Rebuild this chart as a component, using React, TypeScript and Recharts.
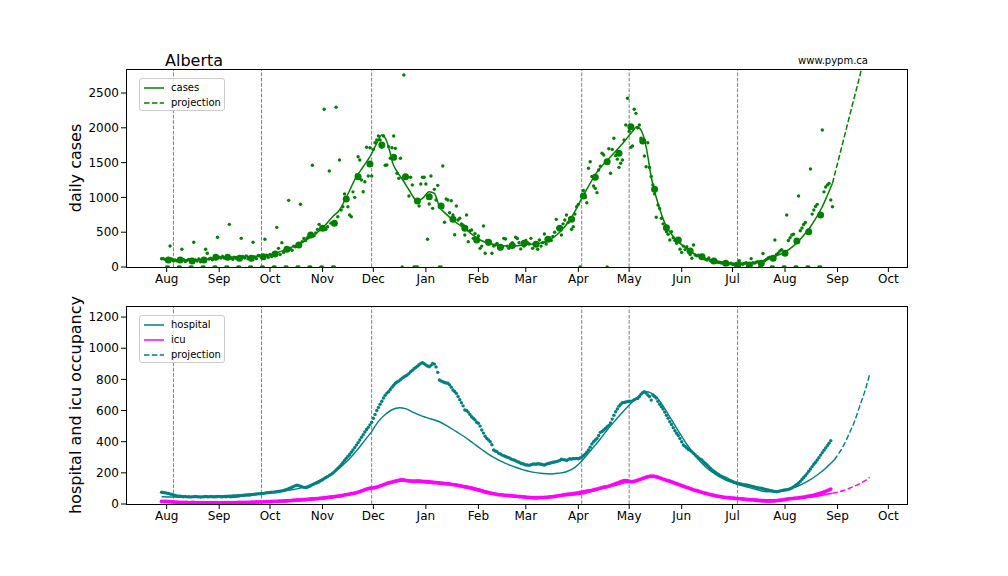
import React from "react";
import { ComposedChart, Line, Scatter, XAxis, YAxis, ReferenceLine } from "recharts";

const FONT = "'DejaVu Sans', sans-serif";
const GREEN = "#008000";
const TEAL = "#008080";
const MAGENTA = "#ff00ff";

// x axis: days since 2020-08-01
const monthTicks = [0, 31, 61, 92, 122, 153, 184, 212, 243, 273, 304, 334, 365, 396, 426];
const monthLabels = ["Aug", "Sep", "Oct", "Nov", "Dec", "Jan", "Feb", "Mar", "Apr", "May", "Jun", "Jul", "Aug", "Sep", "Oct"];
const eventDays = [4, 56, 121, 245, 273, 337];

const caseTicks = [0, 500, 1000, 1500, 2000, 2500];
const occTicks = [0, 200, 400, 600, 800, 1000, 1200];

// daily reported cases, first value is day -3
const firstDay = -3;
const dailyCases = [
  118, 120, 110, 0, 0,
  302, 115, 85, 100, 90, 0, 0,
  254, 105, 80, 95, 110, 0, 0,
  355, 100, 85, 115, 75, 0, 0,
  254, 197, 115, 125, 105, 0, 0,
  427, 140, 130, 150, 130, 0, 0,
  613, 125, 110, 140, 125, 0, 0,
  412, 150, 130, 160, 120, 0, 0,
  355, 145, 120, 165, 160, 0, 0,
  398, 170, 140, 180, 150, 0, 0,
  570, 268, 180, 350, 210, 0, 0,
  958, 260, 240, 300, 290, 0, 0,
  901, 364, 410, 380, 420, 0, 0,
  1461, 450, 490, 540, 613, 0, 0,
  2266, 542, 580, 1379, 630, 0, 0,
  2295, 723, 1537, 820, 866, 1050, 990,
  866, 747, 723, 1080, 1001, 1322, 1585,
  1537, 1250, 1082, 1226, 1720, 1307, 1714,
  1307, 1690, 1786, 1825, 1882, 1825, 1720,
  1882, 1461, 1466, 1729, 1562, 1714, 1882,
  1705, 1346, 1274, 1562, 0, 2759, 1283,
  1289, 1020, 1289, 1180, 0, 0, 0,
  876, 1193, 1289, 1289, 1193, 398, 905,
  1307, 843, 1116, 963, 1173, 0, 0,
  1451, 642, 977, 963, 780, 953, 747,
  464, 876, 675, 700, 620, 600, 460,
  747, 364, 520, 532, 412, 480, 390,
  445, 268, 300, 589, 197, 380, 330,
  360, 197, 300, 316, 340, 280, 260,
  292, 412, 402, 300, 270, 320, 350,
  300, 427, 410, 348, 260, 320, 300,
  380, 350, 330, 412, 268, 340, 326,
  254, 388, 300, 350, 474, 330, 398,
  420, 380, 440, 500, 685, 560, 556,
  460, 620, 675, 747, 640, 700, 542,
  580, 760, 866, 900, 0, 1020, 1100,
  1000, 924, 1418, 1513, 1300, 1164, 1130,
  1068, 1394, 1450, 1634, 1610, 1500, 0,
  1700, 1346, 1690, 1849, 1600, 1550, 1432,
  1490, 1537, 1825, 2040, 2424, 1950, 1720,
  1740, 2266, 2208, 2000, 2040, 1850, 1790,
  1595, 1441, 1786, 1430, 1300, 1178, 1050,
  714, 891, 840, 700, 620, 560, 507,
  470, 388, 507, 420, 380, 340, 390,
  254, 210, 300, 250, 292, 220, 180,
  125, 316, 172, 160, 170, 140, 150,
  120, 110, 100, 130, 90, 80, 85,
  75, 70, 65, 60, 55, 50, 48,
  40, 45, 55, 40, 35, 0, 0,
  90, 45, 40, 50, 60, 0, 0,
  120, 60, 55, 70, 75, 0, 0,
  194, 90, 110, 130, 140, 0, 0,
  388, 180, 200, 230, 250, 0, 0,
  747, 380, 420, 460, 470, 0, 0,
  1020, 520, 560, 610, 640, 0, 0,
  1408, 760, 820, 870, 900, 0, 0,
  1968, 1080, 1150, 1180, 1200, 962, 866,
];

// weekly averages, on days 1, 8, 15, ...
const weekFirstDay = 1;
const weeklyCases = [
  100, 100, 86, 100, 139, 139, 125, 125, 148, 187,
  254, 316, 460, 556, 628, 977, 1297, 1480, 1753, 1576,
  1297, 948, 1010, 876, 685, 556, 388, 355, 283, 310,
  340, 326, 398, 556, 685, 1020, 1289, 1513, 1634, 2016,
  1810, 1116, 565, 388, 230, 148, 86, 53, 29, 29,
  53, 125, 197, 374, 507, 747,
];

const caseModelDays = [
  -3, 5, 15, 25, 35, 45, 56, 64, 71, 78, 85, 92, 98, 102, 106, 112, 116, 120, 124, 127,
  129.6, 131.5, 133.5, 136, 139.4, 143, 148, 151, 155, 158, 161, 165, 169, 177, 185, 194.5, 205, 214, 220, 226,
  232, 238, 245.6, 253.5, 263, 270, 275, 277.5, 280, 283, 286, 290, 295, 299, 303, 308, 312.5, 317, 322, 327,
  332, 336, 343, 350, 355, 359.7, 365, 369.5, 374, 379.4, 383, 387, 390, 393,
];
const caseModel = [
  120, 100, 100, 115, 140, 148, 155, 197, 260, 330, 430, 560, 723, 819, 1000, 1297, 1440, 1585, 1777, 1897,
  1825, 1680, 1489, 1370, 1250, 1110, 950, 985, 1082, 1058, 866, 760, 675, 532, 388, 316, 300, 326, 340, 388,
  500, 675, 1010, 1346, 1609, 1800, 1950, 2016, 1968, 1729, 1297, 915, 579, 440, 340, 250, 172, 130, 100, 75,
  58, 53, 58, 76, 110, 158, 215, 292, 400, 556, 690, 866, 1030, 1202,
];
const caseProjDays = [393, 399, 405, 410, 414];
const caseProj = [1202, 1777, 2352, 2830, 3250];

// hospital occupancy, first value is day -3
const hospital = [
  75, 74, 72, 70, 68, 64, 62, 58, 55, 52,
  50, 50, 48, 47, 48, 46, 47, 45, 46, 47,
  48, 47, 46, 45, 46, 47, 48, 47, 46, 48,
  47, 46, 47, 48, 49, 47, 46, 48, 47, 49,
  48, 47, 48, 50, 49, 51, 52, 54, 55, 56,
  57, 58, 58, 60, 62, 63, 64, 65, 66, 67,
  68, 70, 72, 73, 74, 75, 76, 77, 79, 80,
  82, 84, 87, 90, 94, 98, 103, 108, 113, 118,
  121, 118, 114, 110, 107, 106, 108, 112, 117, 123,
  128, 133, 138, 143, 150, 156, 163, 170, 176, 183,
  190, 198, 208, 218, 229, 240, 252, 265, 280, 293,
  306, 318, 332, 347, 362, 378, 394, 411, 428, 445,
  462, 478, 492, 508, 525, 550, 575, 600, 620, 640,
  660, 680, 698, 712, 721, 735, 750, 762, 775, 783,
  789, 798, 808, 815, 822, 828, 837, 849, 858, 868,
  876, 885, 894, 903, 907, 900, 892, 886, 881, 890,
  903, 898, 880, 845, 796, 790, 785, 780, 777, 775,
  765, 750, 732, 722, 710, 690, 670, 650, 630, 603,
  600, 590, 575, 560, 550, 540, 525, 518, 500, 475,
  455, 435, 420, 411, 400, 380, 347, 340, 336, 325,
  321, 314, 310, 305, 300, 298, 290, 285, 282, 278,
  272, 268, 262, 258, 255, 250, 250, 248, 252, 255,
  257, 255, 258, 257, 255, 252, 250, 255, 260, 262,
  265, 268, 270, 272, 275, 280, 287, 285, 283, 280,
  285, 290, 288, 292, 290, 293, 290, 295, 300, 310,
  320, 332, 347, 365, 385, 400, 411, 421, 440, 460,
  465, 475, 485, 496, 505, 520, 545, 570, 592, 610,
  628, 640, 650, 652, 655, 657, 660, 658, 662, 670,
  675, 678, 690, 705, 715, 721, 712, 700, 690, 667,
  700, 690, 680, 660, 640, 625, 610, 590, 570, 550,
  528, 510, 490, 470, 454, 440, 420, 400, 379, 370,
  360, 350, 345, 336, 325, 315, 305, 295, 288, 282,
  270, 260, 250, 240, 229, 218, 210, 202, 195, 188,
  180, 175, 170, 165, 160, 154, 150, 145, 140, 136,
  132, 130, 128, 126, 124, 122, 120, 118, 115, 112,
  110, 107, 105, 102, 101, 98, 95, 92, 90, 87,
  85, 82, 80, 79, 81, 83, 86, 88, 90, 92,
  94, 98, 103, 110, 118, 126, 135, 145, 158, 170,
  182, 195, 210, 225, 240, 255, 268, 282, 298, 314,
  330, 345, 360, 375, 390, 407,
];

// icu occupancy, first value is day -3
const icu = [
  17, 17, 16, 16, 15, 15, 14, 13, 12, 12,
  11, 11, 11, 10, 10, 10, 9, 9, 10, 10,
  9, 9, 8, 8, 8, 9, 9, 8, 8, 8,
  7, 8, 8, 8, 7, 7, 8, 8, 8, 8,
  9, 9, 8, 9, 9, 10, 10, 10, 11, 10,
  10, 11, 11, 12, 12, 12, 13, 12, 13, 13,
  14, 14, 15, 15, 15, 16, 16, 17, 17, 18,
  19, 19, 20, 20, 21, 22, 22, 23, 24, 25,
  26, 26, 27, 28, 28, 29, 30, 31, 32, 33,
  33, 34, 35, 36, 37, 38, 40, 41, 42, 44,
  45, 46, 47, 49, 50, 52, 53, 55, 58, 60,
  62, 64, 66, 68, 70, 73, 76, 80, 84, 88,
  92, 96, 99, 101, 102, 104, 106, 108, 112, 116,
  120, 124, 128, 132, 135, 138, 141, 144, 147, 150,
  152, 154, 155, 154, 152, 150, 148, 147, 146, 145,
  146, 147, 146, 145, 144, 143, 142, 141, 140, 139,
  138, 137, 137, 136, 134, 133, 132, 131, 130, 129,
  128, 126, 125, 123, 121, 119, 117, 115, 112, 110,
  108, 106, 104, 101, 98, 95, 92, 90, 87, 84,
  80, 77, 74, 72, 70, 68, 66, 64, 62, 60,
  59, 58, 57, 56, 55, 54, 53, 52, 51, 50,
  49, 48, 47, 46, 45, 44, 43, 42, 41, 40,
  40, 39, 40, 41, 42, 41, 42, 43, 44, 45,
  46, 47, 48, 50, 52, 54, 56, 58, 60, 62,
  63, 64, 65, 66, 68, 70, 72, 74, 76, 78,
  80, 82, 84, 86, 88, 90, 93, 96, 99, 102,
  105, 108, 110, 112, 115, 118, 122, 126, 130, 134,
  138, 142, 146, 150, 150, 148, 145, 143, 143, 145,
  148, 152, 156, 160, 164, 168, 172, 175, 177, 178,
  178, 177, 175, 172, 168, 164, 160, 156, 152, 150,
  146, 142, 138, 134, 130, 126, 122, 118, 114, 110,
  107, 103, 99, 95, 91, 88, 85, 82, 78, 75,
  72, 69, 66, 63, 60, 58, 55, 53, 51, 49,
  47, 45, 43, 42, 41, 40, 39, 38, 37, 36,
  35, 34, 33, 32, 31, 30, 29, 28, 27, 26,
  25, 24, 23, 22, 21, 20, 20, 19, 19, 19,
  20, 20, 21, 22, 23, 24, 25, 27, 29, 31,
  33, 34, 35, 36, 37, 38, 39, 41, 43, 44,
  46, 48, 50, 52, 54, 57, 60, 63, 66, 69,
  73, 77, 81, 86, 91, 96,
];

const hospModelDays = [
  -3, 10, 31, 51, 71, 82, 94, 102, 106, 112, 117, 121, 125, 129, 133, 137.5, 141, 145, 149, 153,
  161, 165, 171, 176, 181, 186, 191, 196, 200, 205, 210, 216, 222, 226, 231, 236, 241, 245.6, 250, 255.5,
  260, 265, 270, 275, 279, 283, 286, 289, 293, 297, 302, 306.6, 312, 318, 324, 330, 336, 342, 348, 354,
  359, 364, 369, 374, 379, 384, 389, 394,
];
const hospModel = [
  47, 45, 51, 64, 86, 111, 175, 229, 270, 340, 410, 465, 530, 575, 605, 618, 612, 592, 572, 556,
  528, 505, 464, 430, 390, 350, 312, 282, 261, 240, 221, 205, 196, 193, 197, 207, 235, 282, 340, 411,
  475, 539, 600, 657, 695, 721, 712, 689, 630, 560, 470, 390, 310, 240, 190, 154, 130, 111, 93, 79,
  80, 86, 100, 122, 150, 186, 230, 282,
];
const hospProjDays = [394, 399, 403, 406, 409, 412, 415];
const hospProj = [282, 365, 454, 530, 625, 720, 834];

const icuModelDays = [
  -3, 20, 50, 70, 90, 100, 110, 121, 130, 139, 148, 158, 170, 185, 196, 206, 216, 230, 245, 255,
  265, 273, 281, 287, 293, 299, 305, 314, 324, 335, 345, 354, 363, 373, 383, 393,
];
const icuModel = [
  17, 12, 12, 15, 30, 45, 69, 101, 130, 148, 152, 145, 128, 95, 62, 48, 43, 50, 64, 94,
  120, 143, 165, 175, 160, 135, 111, 78, 50, 38, 32, 28, 28, 36, 48, 69,
];
const icuProjDays = [393, 399, 403, 408, 412, 415];
const icuProj = [69, 85, 101, 125, 148, 171];

const fromStart = (start: number, vals: number[], step = 1) => vals.map((v, i) => ({ d: start + i * step, v }));
const pairs = (days: number[], vals: number[]) => days.map((d, i) => ({ d, v: vals[i] }));

const tickStyle = { fontSize: 12, fill: "#000", fontFamily: FONT };

const dot = (r: number, color: string) => (p: any) =>
  p.cx == null || p.cy == null ? <g /> : <circle cx={p.cx} cy={p.cy} r={r} fill={color} />;

function LegendBox({ left, top, items }: { left: number; top: number; items: { label: string; color: string; dashed?: boolean }[] }) {
  return (
    <div
      style={{
        position: "absolute",
        left,
        top,
        width: 86,
        boxSizing: "border-box",
        border: "1px solid #cccccc",
        borderRadius: 3,
        background: "rgba(255,255,255,0.8)",
        padding: "1px 0 0 4px",
        fontFamily: FONT,
        fontSize: 10,
        color: "#000",
      }}
    >
      {items.map((it) => (
        <div key={it.label} style={{ display: "flex", alignItems: "center", height: 15 }}>
          <svg width={22} height={10}>
            <line x1={0} x2={20} y1={5} y2={5} stroke={it.color} strokeWidth={1.5} strokeDasharray={it.dashed ? "5.5 2.4" : undefined} />
          </svg>
          <span style={{ marginLeft: 5 }}>{it.label}</span>
        </div>
      ))}
    </div>
  );
}

function xAxisEl() {
  return (
    <XAxis
      dataKey="d"
      type="number"
      domain={[-24, 437]}
      allowDataOverflow
      ticks={monthTicks}
      tickFormatter={(v: number) => monthLabels[monthTicks.indexOf(v)]}
      tick={tickStyle}
      tickSize={5}
      tickLine={{ stroke: "#000" }}
      axisLine={false}
      height={30}
      interval={0}
    />
  );
}

export default function App() {
  const caseDots = fromStart(firstDay, dailyCases);
  const weekDots = fromStart(weekFirstDay, weeklyCases, 7);
  const hospDots = fromStart(firstDay, hospital);
  const icuDots = fromStart(firstDay, icu);

  return (
    <div style={{ position: "absolute", left: 0, top: 0, width: 1008, height: 576, background: "#fff", fontFamily: FONT }}>
      <div style={{ position: "absolute", left: 0, top: 0 }}>
        <ComposedChart width={1008} height={300} margin={{ top: 69, right: 101, bottom: 3, left: 66 }}>
          {xAxisEl()}
          <YAxis
            type="number"
            domain={[0, 2845]}
            allowDataOverflow
            ticks={caseTicks}
            tick={tickStyle}
            tickSize={5}
            tickLine={{ stroke: "#000" }}
            axisLine={false}
            width={60}
          />
          {eventDays.map((d) => (
            <ReferenceLine key={d} x={d} stroke="#808080" strokeWidth={1} strokeDasharray="3.7 1.6" />
          ))}
          <Scatter data={caseDots} dataKey="v" shape={dot(1.7, GREEN)} isAnimationActive={false} />
          <Scatter data={weekDots} dataKey="v" shape={dot(3.5, GREEN)} isAnimationActive={false} />
          <Line data={pairs(caseModelDays, caseModel)} dataKey="v" type="monotone" stroke={GREEN} strokeWidth={1.5} dot={false} isAnimationActive={false} />
          <Line data={pairs(caseProjDays, caseProj)} dataKey="v" type="monotone" stroke={GREEN} strokeWidth={1.5} strokeDasharray="5.5 2.4" dot={false} isAnimationActive={false} />
        </ComposedChart>
      </div>

      <div style={{ position: "absolute", left: 0, top: 300 }}>
        <ComposedChart width={1008} height={276} margin={{ top: 6, right: 101, bottom: 42, left: 66 }}>
          {xAxisEl()}
          <YAxis
            type="number"
            domain={[0, 1271]}
            allowDataOverflow
            ticks={occTicks}
            tick={tickStyle}
            tickSize={5}
            tickLine={{ stroke: "#000" }}
            axisLine={false}
            width={60}
          />
          {eventDays.map((d) => (
            <ReferenceLine key={d} x={d} stroke="#808080" strokeWidth={1} strokeDasharray="3.7 1.6" />
          ))}
          <Scatter data={hospDots} dataKey="v" shape={dot(1.7, TEAL)} isAnimationActive={false} />
          <Scatter data={icuDots} dataKey="v" shape={dot(1.9, MAGENTA)} isAnimationActive={false} />
          <Line data={pairs(hospModelDays, hospModel)} dataKey="v" type="monotone" stroke={TEAL} strokeWidth={1.4} dot={false} isAnimationActive={false} />
          <Line data={pairs(hospProjDays, hospProj)} dataKey="v" type="monotone" stroke={TEAL} strokeWidth={1.4} strokeDasharray="5.5 2.4" dot={false} isAnimationActive={false} />
          <Line data={pairs(icuModelDays, icuModel)} dataKey="v" type="monotone" stroke={MAGENTA} strokeWidth={1.4} dot={false} isAnimationActive={false} />
          <Line data={pairs(icuProjDays, icuProj)} dataKey="v" type="monotone" stroke={MAGENTA} strokeWidth={1.4} strokeDasharray="5.5 2.4" dot={false} isAnimationActive={false} />
        </ComposedChart>
      </div>

      <svg width={1008} height={576} style={{ position: "absolute", left: 0, top: 0, pointerEvents: "none" }}>
        <rect x={126.5} y={69.5} width={781} height={198} fill="none" stroke="#000" strokeWidth={1} />
        <rect x={126.5} y={306.5} width={781} height={198} fill="none" stroke="#000" strokeWidth={1} />
        <text transform="translate(81,168) rotate(-90)" textAnchor="middle" fontSize={16} fontFamily={FONT} fill="#000">
          daily cases
        </text>
        <text transform="translate(81,405) rotate(-90)" textAnchor="middle" fontSize={16} fontFamily={FONT} fill="#000">
          hospital and icu occupancy
        </text>
      </svg>

      <div style={{ position: "absolute", left: 165, top: 51, fontSize: 16, lineHeight: "19px", color: "#000" }}>Alberta</div>
      <div style={{ position: "absolute", right: 140, top: 55, fontSize: 10, lineHeight: "12px", color: "#000" }}>www.pypm.ca</div>

      <LegendBox
        left={139}
        top={78}
        items={[
          { label: "cases", color: GREEN },
          { label: "projection", color: GREEN, dashed: true },
        ]}
      />
      <LegendBox
        left={139}
        top={315}
        items={[
          { label: "hospital", color: TEAL },
          { label: "icu", color: MAGENTA },
          { label: "projection", color: TEAL, dashed: true },
        ]}
      />
    </div>
  );
}
